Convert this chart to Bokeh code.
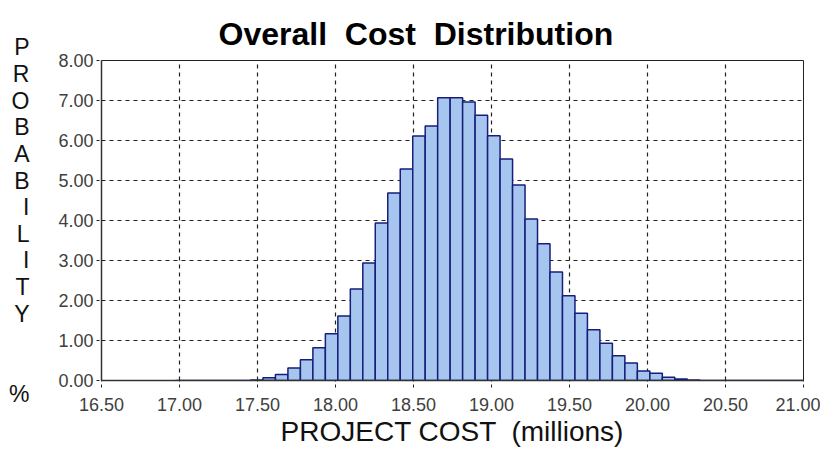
import numpy as np
from bokeh.plotting import figure
from bokeh.models import ColumnDataSource, FixedTicker, NumeralTickFormatter, Range1d
from bokeh.embed import file_html
from bokeh.resources import INLINE

# ---- data (probability % per cost bin, millions) ----
bin_first_edge = 16.975
bin_width = 0.08
probability = [0.00, 0.00, 0.00, 0.00, 0.00, 0.00, 0.01, 0.07, 0.15, 0.31,
               0.52, 0.82, 1.17, 1.61, 2.29, 2.94, 3.94, 4.69, 5.29, 6.11,
               6.36, 7.07, 7.07, 6.96, 6.63, 6.12, 5.54, 4.89, 4.04, 3.42,
               2.71, 2.12, 1.68, 1.27, 0.93, 0.62, 0.44, 0.24, 0.18, 0.08,
               0.04, 0.01, 0.00, 0.00, 0.00, 0.00, 0.00, 0.00, 0.00, 0.00, 0.00]
x_ticks = [16.5, 17.0, 17.5, 18.0, 18.5, 19.0, 19.5, 20.0, 20.5, 21.0]
y_ticks = [0, 1, 2, 3, 4, 5, 6, 7, 8]

title_text = "Overall \u00a0Cost \u00a0Distribution"
x_label_text = "PROJECT COST \u00a0(millions)"
y_label_text = "P\nR\nO\nB\nA\nB\nI\nL\nI\nT\nY\n \n \n%"

left = bin_first_edge + bin_width * np.arange(len(probability))
src = ColumnDataSource(dict(left=left, right=left + bin_width,
                            top=probability, bottom=[0.0] * len(probability)))

p = figure(width=820, height=450, output_backend="svg", toolbar_location=None,
           x_range=Range1d(16.5, 21.0), y_range=Range1d(0, 8),
           min_border_left=101, min_border_right=17, min_border_top=60, min_border_bottom=70)
p.background_fill_color = "white"
p.border_fill_color = "white"
p.outline_line_color = "#222222"
p.outline_line_width = 1

p.quad(left="left", right="right", top="top", bottom="bottom", source=src,
       fill_color="#A6C6EF", line_color="#161E7A", line_width=1.5)

font = "Liberation Sans"
tick_font = "Liberation Sans Narrow, Arial Narrow, Liberation Sans"
for ax in (p.xaxis[0], p.yaxis[0]):
    ax.axis_line_color = "#333333"
    ax.axis_line_width = 1.5
    ax.major_tick_line_color = "#222222"
    ax.major_tick_line_dash = "3 3"
    ax.minor_tick_line_color = None
    ax.major_tick_in = 0
    ax.major_label_text_font = tick_font
    ax.major_label_text_font_size = "18px"
    ax.major_label_text_color = "#404040"
    ax.axis_label_text_font = font
    ax.axis_label_text_font_style = "normal"
    ax.axis_label_text_color = "#111111"

p.xaxis.ticker = FixedTicker(ticks=x_ticks)
p.xaxis.formatter = NumeralTickFormatter(format="0.00")
p.xaxis.major_tick_out = 7
p.xaxis.major_label_standoff = 10
p.xaxis.axis_label = x_label_text
p.xaxis.axis_label_text_font_size = "28px"
p.xaxis.axis_label_standoff = 2

p.yaxis.ticker = FixedTicker(ticks=y_ticks)
p.yaxis.formatter = NumeralTickFormatter(format="0.00")
p.yaxis.major_tick_out = 5
p.yaxis.major_label_standoff = 3
p.yaxis.axis_label = y_label_text
p.yaxis.axis_label_orientation = "horizontal"
p.yaxis.axis_label_text_font_size = "23px"
p.yaxis.axis_label_text_line_height = 1.025
p.yaxis.axis_label_standoff = 26

for g in (p.xgrid[0], p.ygrid[0]):
    g.grid_line_color = "#222222"
    g.grid_line_dash = "4 4"
    g.grid_line_width = 1.2

p.title.text = title_text
p.title.text_font = font
p.title.text_font_size = "32px"
p.title.text_font_style = "bold"
p.title.text_color = "black"
p.title.align = "left"
p.title.offset = 117
p.title.standoff = 17

open("out.html", "w").write(file_html(p, INLINE))
